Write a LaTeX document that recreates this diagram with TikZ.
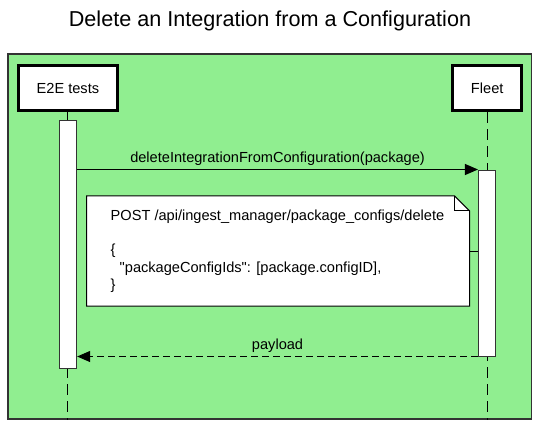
\documentclass[tikz,border=0pt]{standalone}
\usepackage{fontspec}
\setmainfont{Liberation Sans}[Ligatures=TeXOff]
\usepackage{tikz}
\usetikzlibrary{arrows.meta,positioning}
\definecolor{framegreen}{HTML}{90EE90}
\definecolor{framegray}{HTML}{333333}
\newcommand{\labelfont}{\fontsize{14.6}{17.3}\selectfont}
\newcommand{\actwidth}{17.5pt}
\tikzset{
    frame/.style = { draw=framegray, fill=framegreen, line width=1.5pt,
        rectangle, inner sep=0pt
    },
    actor/.style = { draw, fill=white, line width=3pt, rectangle,
        minimum height = 45.5pt, align=center,
        font=\labelfont
    },
    act/.style = { draw=framegray, fill=white, line width=1pt, rectangle,
        minimum width = \actwidth, inner sep=0pt
    },
    lifeline/.style = { line width=1pt, dash pattern=on 11pt off 6pt },
    note/.style = { rectangle, inner sep=0pt },
    notetext/.style = { align=left, inner sep=0pt, font=\labelfont },
    call/.style = { line width=1pt, -{Triangle[length=13pt,width=11pt]} },
    reply/.style = { line width=1pt, dash pattern=on 6.5pt off 4.5pt,
        -{Triangle[length=13pt,width=11pt]} },
    msglabel/.style = { above, inner sep=3pt, font=\labelfont }
}

\begin{document}
\begin{tikzpicture}[x=1pt, y=-1pt]
    \useasboundingbox (0,0) rectangle (540,426);

    \node[font=\fontsize{21.6}{26}\selectfont] (title) at (270,21) {Delete an Integration from a Configuration};
    \node[frame, minimum width=523.5pt, minimum height=365pt] (frame) at (269.75,236.5) {};

    % participants...
    \node[actor, minimum width=99.5pt] (e2e) at (67.9,88) {E2E tests};
    \node[actor, minimum width=69pt] (fleet) at (487.2,88) {Fleet};

    % lifelines...
    \draw[lifeline] (e2e.south) -- (e2e.south |- frame.south);
    \draw[lifeline] (fleet.south) -- (fleet.south |- frame.south);

    % activations...
    \node[act, minimum height=248pt] (e2eact) at (67.9,244) {};
    \node[act, minimum height=186pt] (fleetact) at (487.2,263) {};

    % request...
    \draw[call] (e2eact.east |- fleetact.north) -- node[msglabel] {deleteIntegrationFromConfiguration(package)} (fleetact.north west);

    % note...
    \node[note, minimum width=382.6pt, minimum height=110pt] (note) at (278,251) {};
    \draw[line width=1pt, fill=white] (note.north west) -- ([xshift=-15pt]note.north east)
        -- ([yshift=-15pt]note.north east) -- (note.south east) -- (note.south west) -- cycle;
    \draw[line width=1pt] ([xshift=-15pt]note.north east) |- ([yshift=-15pt]note.north east);
    \node[notetext, right=24pt of note.west] (notetxt) {POST /api/ingest\_manager/package\_configs/delete\\
        \mbox{}\\
        \{\\
        \hspace*{9pt}"packageConfigIds": [package.configID],\\
        \}};
    \draw[line width=1pt] (note.east) -- (note.east -| fleetact.west);

    % response...
    \draw[reply] (fleetact.south west) -- node[msglabel] {payload} (e2eact.east |- fleetact.south);
\end{tikzpicture}
\end{document}
